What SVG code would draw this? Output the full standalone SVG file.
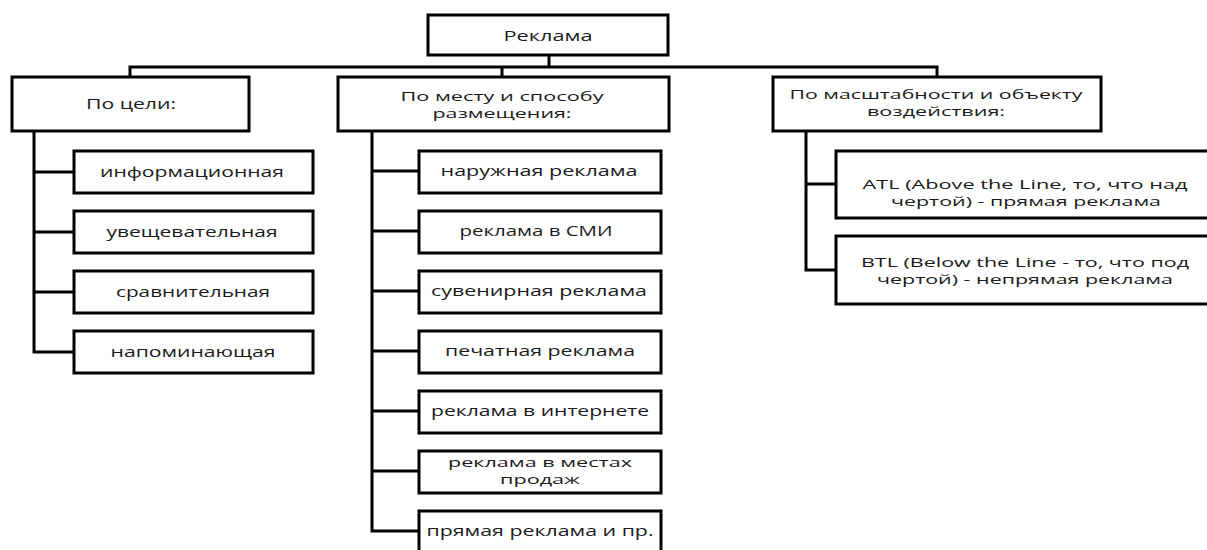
<svg xmlns="http://www.w3.org/2000/svg" width="1207" height="550" viewBox="0 0 1207 550">
<style>
.box{fill:#fff;stroke:#000;stroke-width:3}
.con{fill:none;stroke:#000;stroke-width:3;stroke-linecap:square}
text{font-family:"Open Sans","DejaVu Sans",sans-serif;font-size:14px;fill:#1a1a1a;text-anchor:middle}
text.two{font-size:12.5px}
</style>
<rect width="1207" height="550" fill="#fff"/>
<g id="connectors">
<path class="con" d="M549 55V67M130 67H937M130 67V77M502 67V77M937 67V77"/>
<path class="con" d="M34 131V352M34 172H74M34 232H74M34 292H74M34 352H74"/>
<path class="con" d="M372 131V531M372 171H419M372 231H419M372 291H419M372 351H419M372 411H419M372 471H419M372 531H419"/>
<path class="con" d="M806 131V270M806 184H836M806 270H836"/>
</g>
<g id="root"><rect class="box" x="428" y="15" width="240" height="40"/><text x="548" y="41" textLength="89" lengthAdjust="spacingAndGlyphs">Реклама</text></g>
<g id="goal"><rect class="box" x="12" y="77" width="237" height="54"/><text x="131" y="109" textLength="90" lengthAdjust="spacingAndGlyphs">По цели:</text></g>
<g id="place"><rect class="box" x="338" y="77" width="331" height="54"/><text class="two" x="502" y="101" textLength="203" lengthAdjust="spacingAndGlyphs">По месту и способу</text><text class="two" x="502" y="118" textLength="139" lengthAdjust="spacingAndGlyphs">размещения:</text></g>
<g id="scale"><rect class="box" x="773" y="77" width="328" height="54"/><text class="two" x="936" y="99" textLength="293" lengthAdjust="spacingAndGlyphs">По масштабности и объекту</text><text class="two" x="936" y="116" textLength="138" lengthAdjust="spacingAndGlyphs">воздействия:</text></g>
<g id="g1"><rect class="box" x="74" y="151" width="239" height="42"/><text x="192" y="177" textLength="184" lengthAdjust="spacingAndGlyphs">информационная</text></g>
<g id="g2"><rect class="box" x="74" y="211" width="239" height="42"/><text x="192" y="237" textLength="171" lengthAdjust="spacingAndGlyphs">увещевательная</text></g>
<g id="g3"><rect class="box" x="74" y="271" width="239" height="42"/><text x="193" y="297" textLength="154" lengthAdjust="spacingAndGlyphs">сравнительная</text></g>
<g id="g4"><rect class="box" x="74" y="331" width="239" height="42"/><text x="193" y="357" textLength="165" lengthAdjust="spacingAndGlyphs">напоминающая</text></g>
<g id="p1"><rect class="box" x="419" y="151" width="242" height="42"/><text x="539" y="176" textLength="197" lengthAdjust="spacingAndGlyphs">наружная реклама</text></g>
<g id="p2"><rect class="box" x="419" y="211" width="242" height="42"/><text x="536" y="236" textLength="153" lengthAdjust="spacingAndGlyphs">реклама в СМИ</text></g>
<g id="p3"><rect class="box" x="419" y="271" width="242" height="42"/><text x="539" y="296" textLength="216" lengthAdjust="spacingAndGlyphs">сувенирная реклама</text></g>
<g id="p4"><rect class="box" x="419" y="331" width="242" height="42"/><text x="540" y="356" textLength="190" lengthAdjust="spacingAndGlyphs">печатная реклама</text></g>
<g id="p5"><rect class="box" x="419" y="391" width="242" height="42"/><text x="540" y="416" textLength="218" lengthAdjust="spacingAndGlyphs">реклама в интернете</text></g>
<g id="p6"><rect class="box" x="419" y="451" width="242" height="42"/><text class="two" x="540" y="467" textLength="184" lengthAdjust="spacingAndGlyphs">реклама в местах</text><text class="two" x="540" y="484" textLength="80" lengthAdjust="spacingAndGlyphs">продаж</text></g>
<g id="p7"><rect class="box" x="419" y="511" width="242" height="42"/><text x="540" y="536" textLength="227" lengthAdjust="spacingAndGlyphs">прямая реклама и пр.</text></g>
<g id="atl"><rect class="box" x="836" y="151" width="380" height="67"/><text class="two" x="1025" y="189" textLength="325" lengthAdjust="spacingAndGlyphs">ATL (Above the Line, то, что над</text><text class="two" x="1026" y="206" textLength="270" lengthAdjust="spacingAndGlyphs">чертой) - прямая реклама</text></g>
<g id="btl"><rect class="box" x="836" y="236" width="380" height="68"/><text class="two" x="1025" y="267" textLength="328" lengthAdjust="spacingAndGlyphs">BTL (Below the Line - то, что под</text><text class="two" x="1025" y="284" textLength="296" lengthAdjust="spacingAndGlyphs">чертой) - непрямая реклама</text></g>
</svg>
